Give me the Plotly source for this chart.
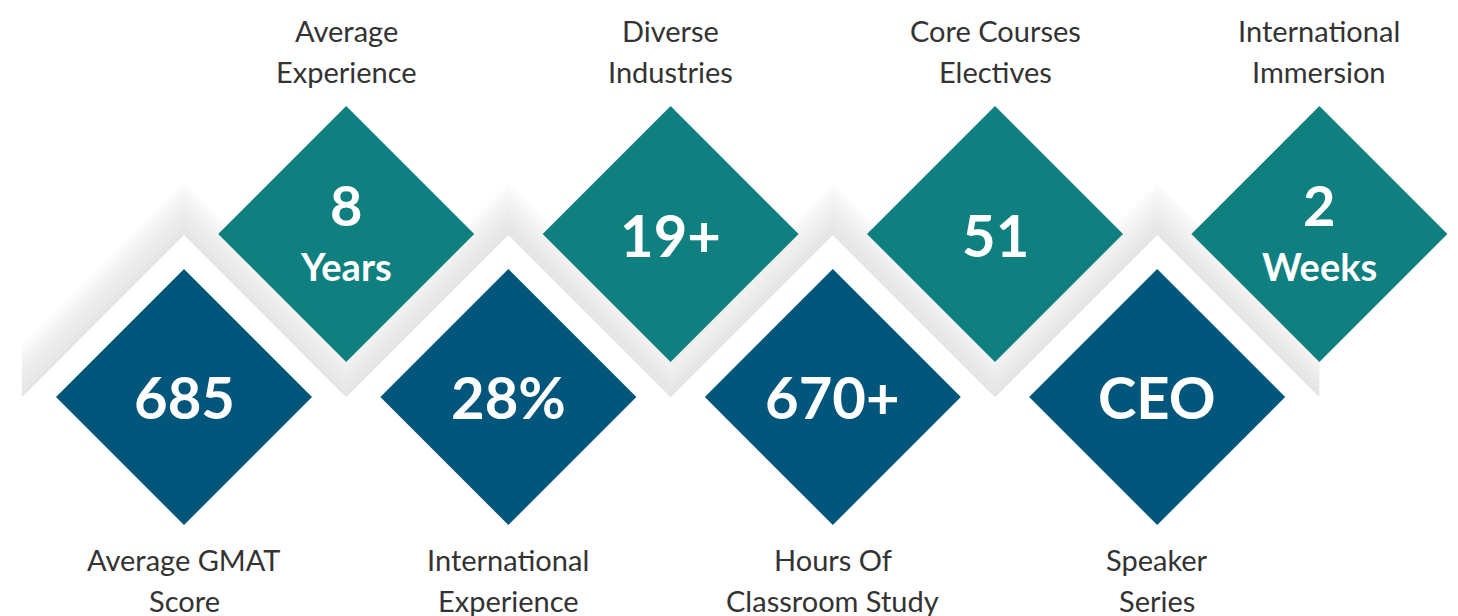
import plotly.graph_objects as go

################################################################################
# Data
################################################################################
bottomValues = ["685", "28%", "670+", "CEO"]
bottomUnits = ["", "", "", ""]
bottomLabels = [["Average GMAT", "Score"], ["International", "Experience"],
                ["Hours Of", "Classroom Study"], ["Speaker", "Series"]]
topValues = ["8", "19+", "51", "2"]
topUnits = ["Years", "", "", "Weeks"]
topLabels = [["Average", "Experience"], ["Diverse", "Industries"],
             ["Core Courses", "Electives"], ["International", "Immersion"]]

################################################################################
# Layout config (pixels)
################################################################################
W, H = 1458, 616
pageOffset = 8        # default body margin of the html page
firstX = 184.0
step = 162.2          # horizontal distance between neighbouring diamonds
bottomY = 397.0
topY = 234.0
half = 128.0          # half diagonal of a diamond
lineGap = 41.0
darkBlue = "#02557B"
teal = "#0F807F"
labelColor = "#333333"
font = "Lato"

bottomX = [firstX + 2 * i * step for i in range(len(bottomValues))]
topX = [firstX + (2 * i + 1) * step for i in range(len(topValues))]

fig = go.Figure()

################################################################################
# Zigzag shadow band
################################################################################
apexY = bottomY - 214.0
valleyY = apexY + step
bandX = [firstX - step]
bandY = [valleyY]
for i in range(len(bottomX)):
	bandX += [bottomX[i], topX[i]]
	bandY += [apexY, valleyY]
thickness = 52.0
layers = 13
for k in range(layers):
	t0 = thickness * k / layers
	t1 = thickness * (k + 1) / layers
	g = int(252 - (252 - 228) * (k / (layers - 1)) ** 0.8)
	xs = bandX + bandX[::-1] + [bandX[0]]
	ys = [y + t0 for y in bandY] + [y + t1 for y in bandY[::-1]] + [bandY[0] + t0]
	fig.add_trace(go.Scatter(x=xs, y=ys, mode="lines", fill="toself",
	                         fillcolor="rgb(%d,%d,%d)" % (g, g, g),
	                         line=dict(width=0, color="rgb(%d,%d,%d)" % (g, g, g)),
	                         hoverinfo="skip", showlegend=False))

################################################################################
# Diamonds
################################################################################
def addDiamond(cx, cy, color):
	fig.add_trace(go.Scatter(x=[cx, cx + half, cx, cx - half, cx],
	                         y=[cy - half, cy, cy + half, cy, cy - half],
	                         mode="lines", fill="toself", fillcolor=color,
	                         line=dict(width=0, color=color),
	                         hoverinfo="skip", showlegend=False))

for cx in bottomX:
	addDiamond(cx, bottomY, darkBlue)
for cx in topX:
	addDiamond(cx, topY, teal)

################################################################################
# Texts
################################################################################
annotations = []
for cx, value, unit, label in zip(bottomX, bottomValues, bottomUnits, bottomLabels):
	annotations.append(dict(x=cx, y=bottomY - 1, text="<b>%s</b>" % value,
	                        font=dict(family=font, size=58, color="white")))
	for j, line in enumerate(label):
		annotations.append(dict(x=cx, y=bottomY + 162 + j * lineGap, text=line,
		                        font=dict(family=font, size=29, color=labelColor)))
for cx, value, unit, label in zip(topX, topValues, topUnits, topLabels):
	if unit:
		annotations.append(dict(x=cx, y=topY - 30, text="<b>%s</b>" % value,
		                        font=dict(family=font, size=56, color="white")))
		annotations.append(dict(x=cx, y=topY + 32, text="<b>%s</b>" % unit,
		                        font=dict(family=font, size=38, color="white")))
	else:
		annotations.append(dict(x=cx, y=topY, text="<b>%s</b>" % value,
		                        font=dict(family=font, size=58, color="white")))
	for j, line in enumerate(label):
		annotations.append(dict(x=cx, y=topY - 204 + j * lineGap, text=line,
		                        font=dict(family=font, size=29, color=labelColor)))
for a in annotations:
	a.update(xref="x", yref="y", showarrow=False, xanchor="center", yanchor="middle")

fig.update_layout(width=W, height=H, margin=dict(l=0, r=0, t=0, b=0),
                  paper_bgcolor="white", plot_bgcolor="white",
                  annotations=annotations,
                  xaxis=dict(range=[pageOffset, W + pageOffset], visible=False, fixedrange=True),
                  yaxis=dict(range=[H + pageOffset, pageOffset], visible=False, fixedrange=True))
fig.write_html("out.html")
